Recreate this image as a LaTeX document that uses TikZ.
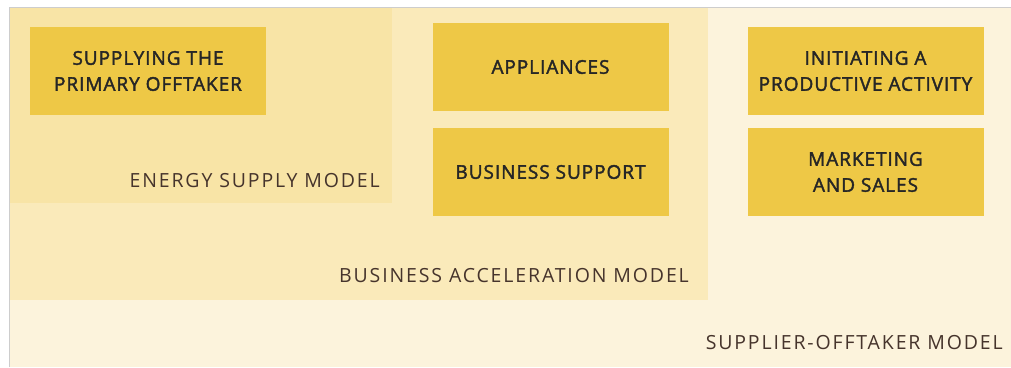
\documentclass[tikz,border=0pt]{standalone}
\usepackage{fontspec}
\setmainfont{Open Sans}
\newfontfamily\seminegrita[FakeBold=2,LetterSpace=5]{Open Sans}
\newfontfamily\espaciada[LetterSpace=9.5]{Open Sans}
\usepackage{xcolor}
\definecolor{Crema}{RGB}{252, 243, 220}
\definecolor{Arena}{RGB}{250, 234, 186}
\definecolor{Paja}{RGB}{248, 228, 166}
\definecolor{Mostaza}{RGB}{238, 200, 70}
\definecolor{Cafe}{RGB}{70, 52, 44}
\definecolor{Borde}{RGB}{205, 205, 205}
\tikzset{
  caja/.style={fill=Mostaza, minimum width=236pt, minimum height=88pt, inner sep=0pt,
    align=center, text=black!85, font=\seminegrita\fontsize{19}{26}\selectfont},
  modelo/.style={anchor=east, inner sep=0pt, text=Cafe, font=\espaciada\fontsize{19.5}{22}\selectfont}
}

\begin{document}
\begin{tikzpicture}[x=1pt, y=-1pt]
            \useasboundingbox (0,0) rectangle (1011,367);
            %Fondos de los modelos
            \fill[white] (0,0) rectangle (1011,367);
            \fill[Crema] (9,7) rectangle (1011,367);
            \fill[Arena] (9,7) rectangle (708,300);
            \fill[Paja] (9,7) rectangle (392,203);
            \draw[Borde, line width=0.8pt] (9,367) -- (9,7) -- (1011,7);
            %Actividades
            \node[caja] (primario) at (148,71) {SUPPLYING THE\\PRIMARY OFFTAKER};
            \node[caja] (aparatos) at (550.5,67) {APPLIANCES};
            \node[caja] (soporte) at (550.5,172) {BUSINESS SUPPORT};
            \node[caja] (iniciar) at (865.5,71) {INITIATING A\\PRODUCTIVE ACTIVITY};
            \node[caja] (mercadeo) at (865.5,172) {MARKETING\\AND SALES};
            %Nombres de los modelos
            \node[modelo] (energia) at (380,181) {ENERGY SUPPLY MODEL};
            \node[modelo] (aceleracion) at (689,276) {BUSINESS ACCELERATION MODEL};
            \node[modelo] (proveedor) at (1003,343) {SUPPLIER-OFFTAKER MODEL};
        \end{tikzpicture}
\end{document}
